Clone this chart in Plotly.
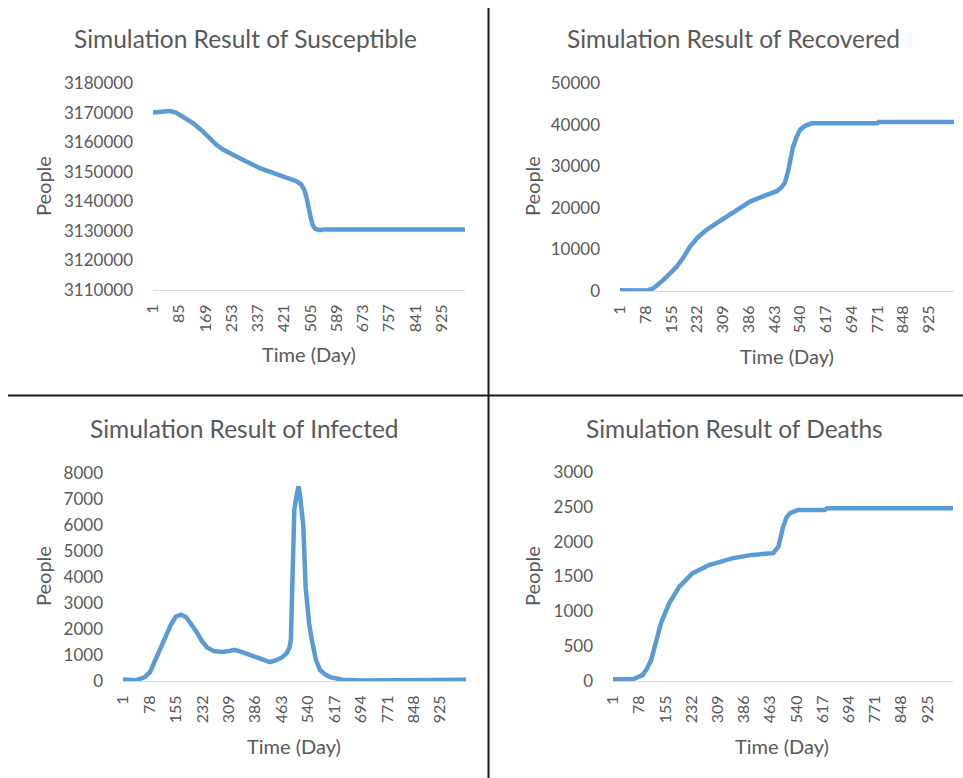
import plotly.graph_objects as go

# ---------------- data ----------------
sus_days = [1, 30, 55, 75, 98, 130, 162, 185, 205, 225, 247, 290, 343, 407, 440, 460,
            475, 485, 492, 498, 505, 512, 520, 535, 550, 1000]
sus_vals = [3170000, 3170200, 3170500, 3170000, 3168600, 3166400, 3163500, 3161000,
            3159000, 3157500, 3156200, 3154000, 3151200, 3148900, 3147800, 3146800,
            3145700, 3144000, 3141500, 3138000, 3135000, 3132000, 3130700, 3130200,
            3130500, 3130500]

rec_days = [1, 30, 80, 100, 115, 130, 150, 170, 190, 210, 235, 260, 290, 320, 355, 390,
            430, 470, 485, 494, 503, 510, 518, 529, 540, 555, 575, 770, 775, 1000]
rec_vals = [200, 100, 100, 600, 1500, 2600, 4200, 5800, 8000, 10600, 13000, 14700,
            16300, 17900, 19800, 21500, 22800, 24000, 25000, 26000, 28500, 31500,
            34500, 37000, 38800, 39700, 40300, 40300, 40600, 40600]

inf_days = [1, 40, 65, 80, 95, 110, 125, 140, 155, 170, 185, 200, 215, 230, 245, 265,
            290, 310, 325, 340, 370, 400, 429, 449, 466, 478, 486, 490, 492, 494, 496,
            500, 507, 512, 516, 520, 526, 533, 543, 551, 563, 575, 590, 604, 640, 700,
            800, 850, 1000]
inf_vals = [60, 30, 150, 350, 800, 1250, 1700, 2150, 2480, 2550, 2450, 2200, 1900, 1550,
            1300, 1150, 1120, 1150, 1200, 1150, 1000, 850, 730, 810, 925, 1070, 1300,
            1580, 2500, 3600, 5200, 6600, 7160, 7480, 7200, 6700, 6000, 3600, 2220,
            1580, 800, 420, 250, 150, 50, 20, 20, 50, 50]

dea_days = [1, 59, 88, 100, 113, 127, 142, 166, 196, 234, 283, 351, 409, 472, 487, 501,
            511, 521, 545, 623, 630, 1000]
dea_vals = [25, 25, 85, 170, 300, 540, 830, 1115, 1355, 1545, 1665, 1760, 1810, 1835,
            1930, 2215, 2350, 2410, 2455, 2455, 2480, 2480]

sus_ticks = [1, 85, 169, 253, 337, 421, 505, 589, 673, 757, 841, 925]
oth_ticks = [1, 78, 155, 232, 309, 386, 463, 540, 617, 694, 771, 848, 925]

titles = ["Simulation Result of Susceptible", "Simulation Result of Recovered",
          "Simulation Result of Infected", "Simulation Result of Deaths"]

# ---------------- layout helpers ----------------
W, H = 963, 778
FONT = "Lato"
TXT = "#595959"
LINE = "#5b9bd5"

def px_x(p):
    return p / W

def px_y(p):
    return 1 - p / H

panels = [
    dict(d=sus_days, v=sus_vals, t=sus_ticks, box=(153, 465, 83, 290),
         yr=(3110000, 3180000), dt=10000, tc=(245, 38), yl=(43, 186), xl=(309, 354)),
    dict(d=rec_days, v=rec_vals, t=oth_ticks, box=(620, 954, 83, 291),
         yr=(0, 50000), dt=10000, tc=(733, 38), yl=(532, 186), xl=(787, 356)),
    dict(d=inf_days, v=inf_vals, t=oth_ticks, box=(123, 466, 473, 681),
         yr=(0, 8000), dt=1000, tc=(244, 429), yl=(43, 576), xl=(294, 746)),
    dict(d=dea_days, v=dea_vals, t=oth_ticks, box=(613, 953, 472, 681),
         yr=(0, 3000), dt=500, tc=(734, 429), yl=(532, 576), xl=(782, 746)),
]

fig = go.Figure()
annotations = []
for i, p in enumerate(panels):
    n = "" if i == 0 else str(i + 1)
    l, r, t, b = p["box"]
    fig.add_trace(go.Scatter(x=p["d"], y=p["v"], mode="lines",
                             line=dict(color=LINE, width=4.5),
                             xaxis="x" + n, yaxis="y" + n, showlegend=False,
                             hoverinfo="x+y"))
    fig.layout["xaxis" + n] = dict(
        domain=[px_x(l), px_x(r)], range=[1, 1000], anchor="y" + n,
        automargin=False,
        tickmode="array", tickvals=p["t"], ticktext=[str(v) for v in p["t"]],
        tickangle=-90, showgrid=False, zeroline=False, showline=True,
        linecolor="#d9d9d9", linewidth=1, ticks="", ticklabelstandoff=7,
        tickfont=dict(family=FONT, size=16, color=TXT))
    fig.layout["yaxis" + n] = dict(
        domain=[px_y(b), px_y(t)], range=list(p["yr"]), anchor="x" + n,
        automargin=False,
        tick0=p["yr"][0], dtick=p["dt"], showgrid=False, zeroline=False,
        showline=False, ticks="", ticklabelstandoff=19,
        tickformat="d",
        tickfont=dict(family=FONT, size=17, color=TXT))
    annotations.append(dict(text=titles[i], x=px_x(p["tc"][0]), y=px_y(p["tc"][1]),
                            xref="paper", yref="paper", showarrow=False,
                            xanchor="center", yanchor="middle",
                            font=dict(family=FONT, size=24.5, color=TXT)))
    annotations.append(dict(text="People", x=px_x(p["yl"][0]), y=px_y(p["yl"][1]),
                            xref="paper", yref="paper", showarrow=False, textangle=-90,
                            xanchor="center", yanchor="middle",
                            font=dict(family=FONT, size=20, color=TXT)))
    annotations.append(dict(text="Time (Day)", x=px_x(p["xl"][0]), y=px_y(p["xl"][1]),
                            xref="paper", yref="paper", showarrow=False,
                            xanchor="center", yanchor="middle",
                            font=dict(family=FONT, size=20, color=TXT)))

shapes = [
    dict(type="line", xref="paper", yref="paper", x0=px_x(488.5), x1=px_x(488.5),
         y0=px_y(8), y1=0, line=dict(color="#1a1a1a", width=2)),
    dict(type="line", xref="paper", yref="paper", x0=px_x(8), x1=1,
         y0=px_y(395.5), y1=px_y(395.5), line=dict(color="#1a1a1a", width=2)),
]

fig.update_layout(template="none", width=W, height=H,
                  margin=dict(l=0, r=0, t=0, b=0, pad=0),
                  paper_bgcolor="white", plot_bgcolor="white",
                  annotations=annotations, shapes=shapes,
                  font=dict(family=FONT, color=TXT))

fig.write_html("out.html", config={"displayModeBar": False},
               post_script="document.body.style.margin='0';"
                           "document.body.style.overflow='hidden';")
